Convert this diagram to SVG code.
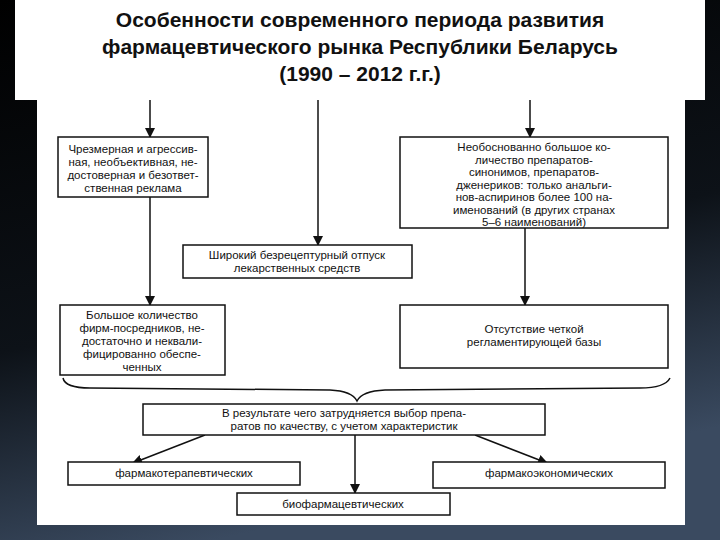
<svg xmlns="http://www.w3.org/2000/svg" width="720" height="540" viewBox="0 0 720 540">
<defs>
<linearGradient id="bg" x1="0" y1="0" x2="0.3" y2="1"><stop offset="0" stop-color="#000"/><stop offset="0.6" stop-color="#0d1218"/><stop offset="1" stop-color="#3a4a60"/></linearGradient>
<marker id="ah" markerWidth="10" markerHeight="10" refX="9" refY="5" orient="auto" markerUnits="userSpaceOnUse"><path d="M0,0 L10,5 L0,10 z" fill="#111"/></marker>
<style>
.b{fill:#fff;stroke:#111;stroke-width:1.5}
.t{font-family:"Liberation Sans",Arial,sans-serif;font-size:11.5px;fill:#111;text-anchor:middle}
.c{stroke:#111;stroke-width:1.5;fill:none}
.h{font-family:"Liberation Sans",Arial,sans-serif;font-size:21px;font-weight:bold;fill:#111;text-anchor:middle}
</style>
</defs>
<rect width="720" height="540" fill="url(#bg)"/>
<rect x="37" y="100" width="648" height="425" fill="#fff"/>
<g id="title"><rect x="15" y="0" width="690" height="100" fill="#fff"/>
<text class="h" x="360" y="27">Особенности современного периода развития</text>
<text class="h" x="360" y="54">фармацевтического рынка Республики Беларусь</text>
<text class="h" x="360" y="81">(1990 – 2012 г.г.)</text></g>
<g id="connectors">
<line class="c" x1="150" y1="100" x2="150" y2="137" marker-end="url(#ah)"/>
<line class="c" x1="318" y1="100" x2="318" y2="245" marker-end="url(#ah)"/>
<line class="c" x1="530" y1="100" x2="530" y2="137" marker-end="url(#ah)"/>
<line class="c" x1="150" y1="197" x2="150" y2="305" marker-end="url(#ah)"/>
<line class="c" x1="525" y1="228" x2="525" y2="305" marker-end="url(#ah)"/>
<path class="c" d="M63,378 Q65,388 90,388 L330,390 Q352,391 357,401 Q362,391 385,390 L640,388 Q665,388 670,378"/>
<line class="c" x1="205" y1="435" x2="133" y2="463" marker-end="url(#ah)"/>
<line class="c" x1="355" y1="435" x2="355" y2="493" marker-end="url(#ah)"/>
<line class="c" x1="475" y1="435" x2="547" y2="463" marker-end="url(#ah)"/>
</g>
<g id="n1"><rect class="b" x="58" y="137" width="150" height="60"/>
<text class="t" x="133" y="153">Чрезмерная и агрессив-</text><text class="t" x="133" y="166">ная, необъективная, не-</text><text class="t" x="133" y="179">достоверная и безответ-</text><text class="t" x="133" y="192">ственная реклама</text></g>
<g id="n2"><rect class="b" x="400" y="137" width="268" height="91"/>
<text class="t" x="534" y="151">Необоснованно большое ко-</text><text class="t" x="534" y="163.5">личество препаратов-</text><text class="t" x="534" y="176">синонимов, препаратов-</text><text class="t" x="534" y="188.5">дженериков: только анальги-</text><text class="t" x="534" y="201">нов-аспиринов более 100 на-</text><text class="t" x="534" y="213.5">именований (в других странах</text><text class="t" x="534" y="226">5–6 наименований)</text></g>
<g id="n3"><rect class="b" x="183" y="245" width="229" height="33"/>
<text class="t" x="297" y="259">Широкий безрецептурный отпуск</text><text class="t" x="297" y="272">лекарственных средств</text></g>
<g id="n4"><rect class="b" x="60" y="305" width="165" height="70"/>
<text class="t" x="142" y="319">Большое количество</text><text class="t" x="142" y="332">фирм-посредников, не-</text><text class="t" x="142" y="345">достаточно и неквали-</text><text class="t" x="142" y="358">фицированно обеспе-</text><text class="t" x="142" y="371">ченных</text></g>
<g id="n5"><rect class="b" x="400" y="305" width="268" height="63"/>
<text class="t" x="534" y="333">Отсутствие четкой</text><text class="t" x="534" y="346">регламентирующей базы</text></g>
<g id="n6"><rect class="b" x="143" y="404" width="402" height="31"/>
<text class="t" x="344" y="417">В результате чего затрудняется выбор препа-</text><text class="t" x="344" y="430">ратов по качеству, с учетом характеристик</text></g>
<g id="n7"><rect class="b" x="68" y="462" width="232" height="23"/><text class="t" x="184" y="477">фармакотерапевтических</text></g>
<g id="n8"><rect class="b" x="433" y="462" width="232" height="26"/><text class="t" x="549" y="477">фармакоэкономических</text></g>
<g id="n9"><rect class="b" x="237" y="493" width="213" height="22"/><text class="t" x="343" y="508">биофармацевтических</text></g>
</svg>
